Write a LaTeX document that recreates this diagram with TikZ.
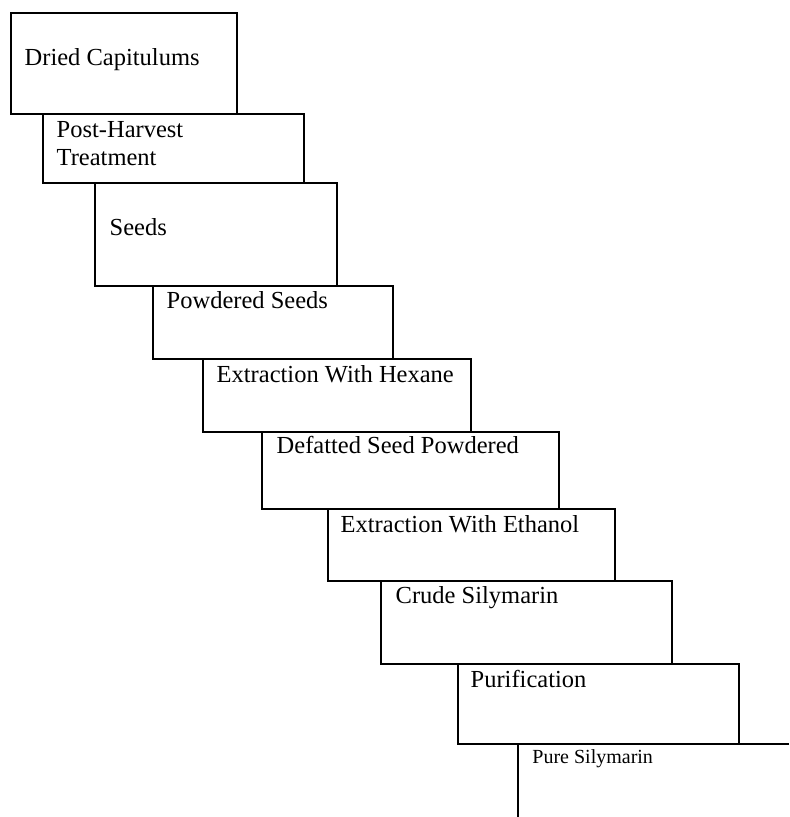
\documentclass[tikz,border=0pt]{standalone}
\usepackage{fontspec}
\setmainfont{Liberation Serif}
\usetikzlibrary{fit}

\tikzset{
  stepbox/.style={draw, line width=0.7pt, inner sep=0pt},
  steptext/.style={anchor=base west, inner sep=0pt, align=left,
    font=\fontsize{12.25}{14}\selectfont},
}

\begin{document}
\begin{tikzpicture}[x=0.5pt,y=-0.5pt]
  \useasboundingbox (0,0) rectangle (789,817);

  % Boxes
  \foreach \n/\xa/\ya/\xb/\yb in {dried/11/13/237/114, post/43/114/304/183,
      seeds/95/183/337/286, powd/153/286/393/359, hex/203/359/471/432,
      defat/262/432/559/509, eth/328/509/615/581, crude/381/581/672/664,
      purif/458/664/739/744}
  {
    \node[stepbox, fit={(\xa,\ya) (\xb,\yb)}] (\n) {};
  }

  % Last step, open to the right and below
  \coordinate (pure) at (518,744);
  \coordinate (pure-r) at (789,744);
  \coordinate (pure-b) at (518,817);
  \draw[line width=0.7pt] (pure-r) -- (pure) -- (pure-b);

  % Labels (base of a two-line label is its last line)
  \foreach \n/\dx/\dy/\txt in {dried/14/53/Dried Capitulums,
      post/14/52/{Post-Harvest\\Treatment}, seeds/15/53/Seeds,
      powd/14/23/Powdered Seeds, hex/14/24/Extraction With Hexane,
      defat/15/22/Defatted Seed Powdered, eth/13/24/Extraction With Ethanol,
      crude/15/23/Crude Silymarin, purif/13/24/Purification}
  {
    \node[steptext] (\n-t) at ([shift={(\dx,\dy)}]\n.north west) {\txt};
  }
  \node[steptext, font=\fontsize{10}{12}\selectfont] (pure-t)
    at ([shift={(14,19)}]pure) {Pure Silymarin};

\end{tikzpicture}
\end{document}
